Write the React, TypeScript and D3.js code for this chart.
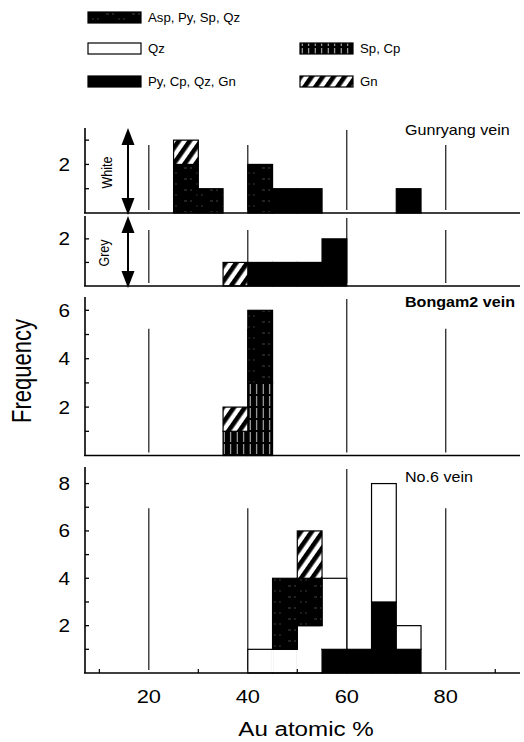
import React from 'react';
import * as d3 from 'd3';

// histogram bins (start of each 5% class)
const binStarts = [25, 30, 35, 40, 45, 50, 55, 60, 65, 70];
const binWidth = 5;
const xTicks = [20, 40, 60, 80];

// stacking order, bottom to top
const keys = ['py', 'qz', 'spcp', 'asp', 'gn'];

const legendLabels: Record<string, string> = {
  asp: 'Asp, Py, Sp, Qz',
  qz: 'Qz',
  py: 'Py, Cp, Qz, Gn',
  spcp: 'Sp, Cp',
  gn: 'Gn',
};

// Gunryang vein, white
const whitePy = [0, 0, 0, 0, 1, 1, 0, 0, 0, 1];
const whiteAsp = [2, 1, 0, 2, 0, 0, 0, 0, 0, 0];
const whiteGn = [1, 0, 0, 0, 0, 0, 0, 0, 0, 0];
// Gunryang vein, grey
const greyPy = [0, 0, 0, 1, 1, 1, 2, 0, 0, 0];
const greyGn = [0, 0, 1, 0, 0, 0, 0, 0, 0, 0];
// Bongam2 vein
const bongamSpCp = [0, 0, 1, 3, 0, 0, 0, 0, 0, 0];
const bongamAsp = [0, 0, 0, 3, 0, 0, 0, 0, 0, 0];
const bongamGn = [0, 0, 1, 0, 0, 0, 0, 0, 0, 0];
// No.6 vein
const no6Py = [0, 0, 0, 0, 0, 0, 1, 1, 3, 1];
const no6Qz = [0, 0, 0, 1, 1, 2, 3, 0, 5, 1];
const no6Asp = [0, 0, 0, 0, 3, 2, 0, 0, 0, 0];
const no6Gn = [0, 0, 0, 0, 0, 2, 0, 0, 0, 0];

const zeros = binStarts.map(() => 0);

const panels = [
  { id: 'white', top: 128, bottom: 213, max: 3.5, labels: [2], title: 'Gunryang  vein', titleY: 135, bold: false, side: 'White',
    series: { py: whitePy, qz: zeros, spcp: zeros, asp: whiteAsp, gn: whiteGn } },
  { id: 'grey', top: 216, bottom: 286, max: 2.97, labels: [2], title: '', titleY: 0, bold: false, side: 'Grey',
    series: { py: greyPy, qz: zeros, spcp: zeros, asp: zeros, gn: greyGn } },
  { id: 'bongam', top: 297, bottom: 455.5, max: 6.55, labels: [2, 4, 6], title: 'Bongam2 vein', titleY: 307, bold: true, side: '',
    series: { py: zeros, qz: zeros, spcp: bongamSpCp, asp: bongamAsp, gn: bongamGn } },
  { id: 'no6', top: 467, bottom: 673, max: 8.7, labels: [2, 4, 6, 8], title: 'No.6 vein', titleY: 482, bold: false, side: '',
    series: { py: no6Py, qz: no6Qz, spcp: zeros, asp: no6Asp, gn: no6Gn } },
];

const fills: Record<string, string> = {
  py: '#000',
  qz: '#fff',
  spcp: 'url(#spcp)',
  asp: 'url(#asp)',
  gn: 'url(#gn)',
};

const FONT = 'Arial, "Liberation Sans", Helvetica, sans-serif';
const SX = 1.15; // the scan is a bit wider than tall

const Txt = ({ x, y, size, anchor = 'start', weight = 'normal', sx = SX, children }: any) => (
  <text transform={`translate(${x},${y}) scale(${sx},1)`} fontSize={size} textAnchor={anchor}
    fontWeight={weight} fontFamily={FONT} fill="#000">{children}</text>
);

const Arrow = ({ x, y1, y2 }: any) => {
  const hw = 6.5, hh = 17;
  return (
    <g>
      <line x1={x} x2={x} y1={y1 + hh - 1} y2={y2 - hh + 1} stroke="#000" strokeWidth={2} />
      <polygon points={`${x},${y1} ${x - hw},${y1 + hh} ${x + hw},${y1 + hh}`} fill="#000" />
      <polygon points={`${x},${y2} ${x - hw},${y2 - hh} ${x + hw},${y2 - hh}`} fill="#000" />
    </g>
  );
};

export default function App() {
  const W = 524, H = 742;
  const x = d3.scaleLinear().domain([7, 95]).range([84.5, 520]);

  return (
    <svg width={W} height={H} style={{ position: 'absolute', left: 0, top: 0, background: '#fff' }}>
      <defs>
        <pattern id="asp" patternUnits="userSpaceOnUse" width={26} height={11}>
          <rect width={26} height={11} fill="#000" />
          <line x1={2} x2={10} y1={3} y2={3} stroke="#fff" strokeWidth={0.5} strokeDasharray="3,3" opacity={0.55} />
          <line x1={14} x2={24} y1={8} y2={8} stroke="#fff" strokeWidth={0.5} strokeDasharray="2,3" opacity={0.45} />
        </pattern>
        <pattern id="spcp" patternUnits="userSpaceOnUse" width={6.5} height={12}>
          <rect width={6.5} height={12} fill="#000" />
          <line x1={3.2} x2={3.2} y1={0} y2={10} stroke="#fff" strokeWidth={0.9} opacity={0.9} />
        </pattern>
        <pattern id="gn" patternUnits="userSpaceOnUse" width={9} height={9} patternTransform="rotate(35)">
          <rect width={9} height={9} fill="#fff" />
          <rect width={4.6} height={9} fill="#000" />
        </pattern>
      </defs>

      {/* legend */}
      <g>
        {[
          { key: 'asp', lx: 88, ly: 12 },
          { key: 'qz', lx: 88, ly: 43 },
          { key: 'py', lx: 88, ly: 76 },
          { key: 'spcp', lx: 300, ly: 43 },
          { key: 'gn', lx: 300, ly: 76 },
        ].map((d) => (
          <g key={d.key}>
            <rect x={d.lx} y={d.ly} width={53} height={11} fill={fills[d.key]} stroke="#000" strokeWidth={1.2} />
            <Txt x={d.lx + 60} y={d.ly + 10} size={12} sx={1.1}>{legendLabels[d.key]}</Txt>
          </g>
        ))}
      </g>

      {panels.map((p) => {
        const y = d3.scaleLinear().domain([0, p.max]).range([p.bottom, p.top]);
        const rows = binStarts.map((b, i) => {
          const r: any = { bin: b };
          keys.forEach((k) => { r[k] = (p.series as any)[k][i]; });
          return r;
        });
        const stacked = d3.stack().keys(keys)(rows);
        const ticks = d3.range(1, Math.floor(p.max) + 1);
        const h = p.bottom - p.top;
        // Qz is drawn as one outlined histogram: hide the edges between neighbouring Qz cells
        const qz = stacked.find((s) => s.key === 'qz')!;
        const seams = qz.slice(0, -1).map((d, i) => {
          const n = qz[i + 1];
          if (!(d[1] > d[0]) || !(n[1] > n[0])) return null;
          const lo = Math.max(d[0], n[0]), hi = Math.min(d[1], n[1]);
          if (hi <= lo) return null;
          return { at: (d.data.bin as number) + binWidth, lo, hi };
        }).filter(Boolean) as any[];
        return (
          <g key={p.id}>
            {/* partial vertical guide lines */}
            {xTicks.map((t) => (
              <line key={t} x1={x(t)} x2={x(t)} y1={t === 60 ? p.top + 2 : p.top + h * 0.2}
                y2={p.bottom - 3} stroke="#000" strokeWidth={1.1} />
            ))}
            {stacked.map((s) => (
              <g key={s.key}>
                {s.filter((d) => d[1] > d[0]).map((d, i) => (
                  <rect key={i} x={x(d.data.bin as number)} width={x((d.data.bin as number) + binWidth) - x(d.data.bin as number)}
                    y={y(d[1])} height={y(d[0]) - y(d[1])} fill={fills[s.key]} stroke="#000" strokeWidth={1.2} />
                ))}
              </g>
            ))}
            {seams.map((s, i) => (
              <rect key={i} x={x(s.at) - 1.2} width={2.4} y={y(s.hi) + 0.7} height={y(s.lo) - y(s.hi) - 1.4} fill="#fff" />
            ))}
            {/* axes */}
            <line x1={85} x2={85} y1={p.top} y2={p.bottom} stroke="#000" strokeWidth={1.6} />
            <line x1={84} x2={520} y1={p.bottom} y2={p.bottom} stroke="#000" strokeWidth={1.6} />
            {ticks.map((t) => (
              <line key={t} x1={85} x2={89} y1={y(t)} y2={y(t)} stroke="#000" strokeWidth={1.3} />
            ))}
            {p.labels.map((t) => (
              <Txt key={t} x={70} y={y(t) + 6.5} size={18} anchor="end">{t}</Txt>
            ))}
            {p.title && (
              <Txt x={405} y={p.titleY} size={14} weight={p.bold ? 'bold' : 'normal'}>{p.title}</Txt>
            )}
            {p.side && (
              <g>
                <Arrow x={128} y1={p.top} y2={p.bottom + 2} />
                <text transform={`translate(${p.side === 'White' ? 112 : 109},${(p.top + p.bottom) / 2 + 2}) rotate(-90) scale(1,1.15)`}
                  fontSize={12.5} textAnchor="middle" fontFamily={FONT}>{p.side}</text>
              </g>
            )}
          </g>
        );
      })}

      {/* bottom x axis */}
      {d3.range(10, 95, 20).map((t) => (
        <line key={t} x1={x(t)} x2={x(t)} y1={673} y2={669} stroke="#000" strokeWidth={1.2} />
      ))}
      {xTicks.map((t) => (
        <Txt key={t} x={x(t)} y={703} size={19} anchor="middle">{t}</Txt>
      ))}
      <Txt x={306} y={736} size={21} anchor="middle">Au atomic %</Txt>
      <text transform="translate(31,371) rotate(-90) scale(1,1.25)" fontSize={22} textAnchor="middle"
        fontFamily={FONT}>Frequency</text>
    </svg>
  );
}
